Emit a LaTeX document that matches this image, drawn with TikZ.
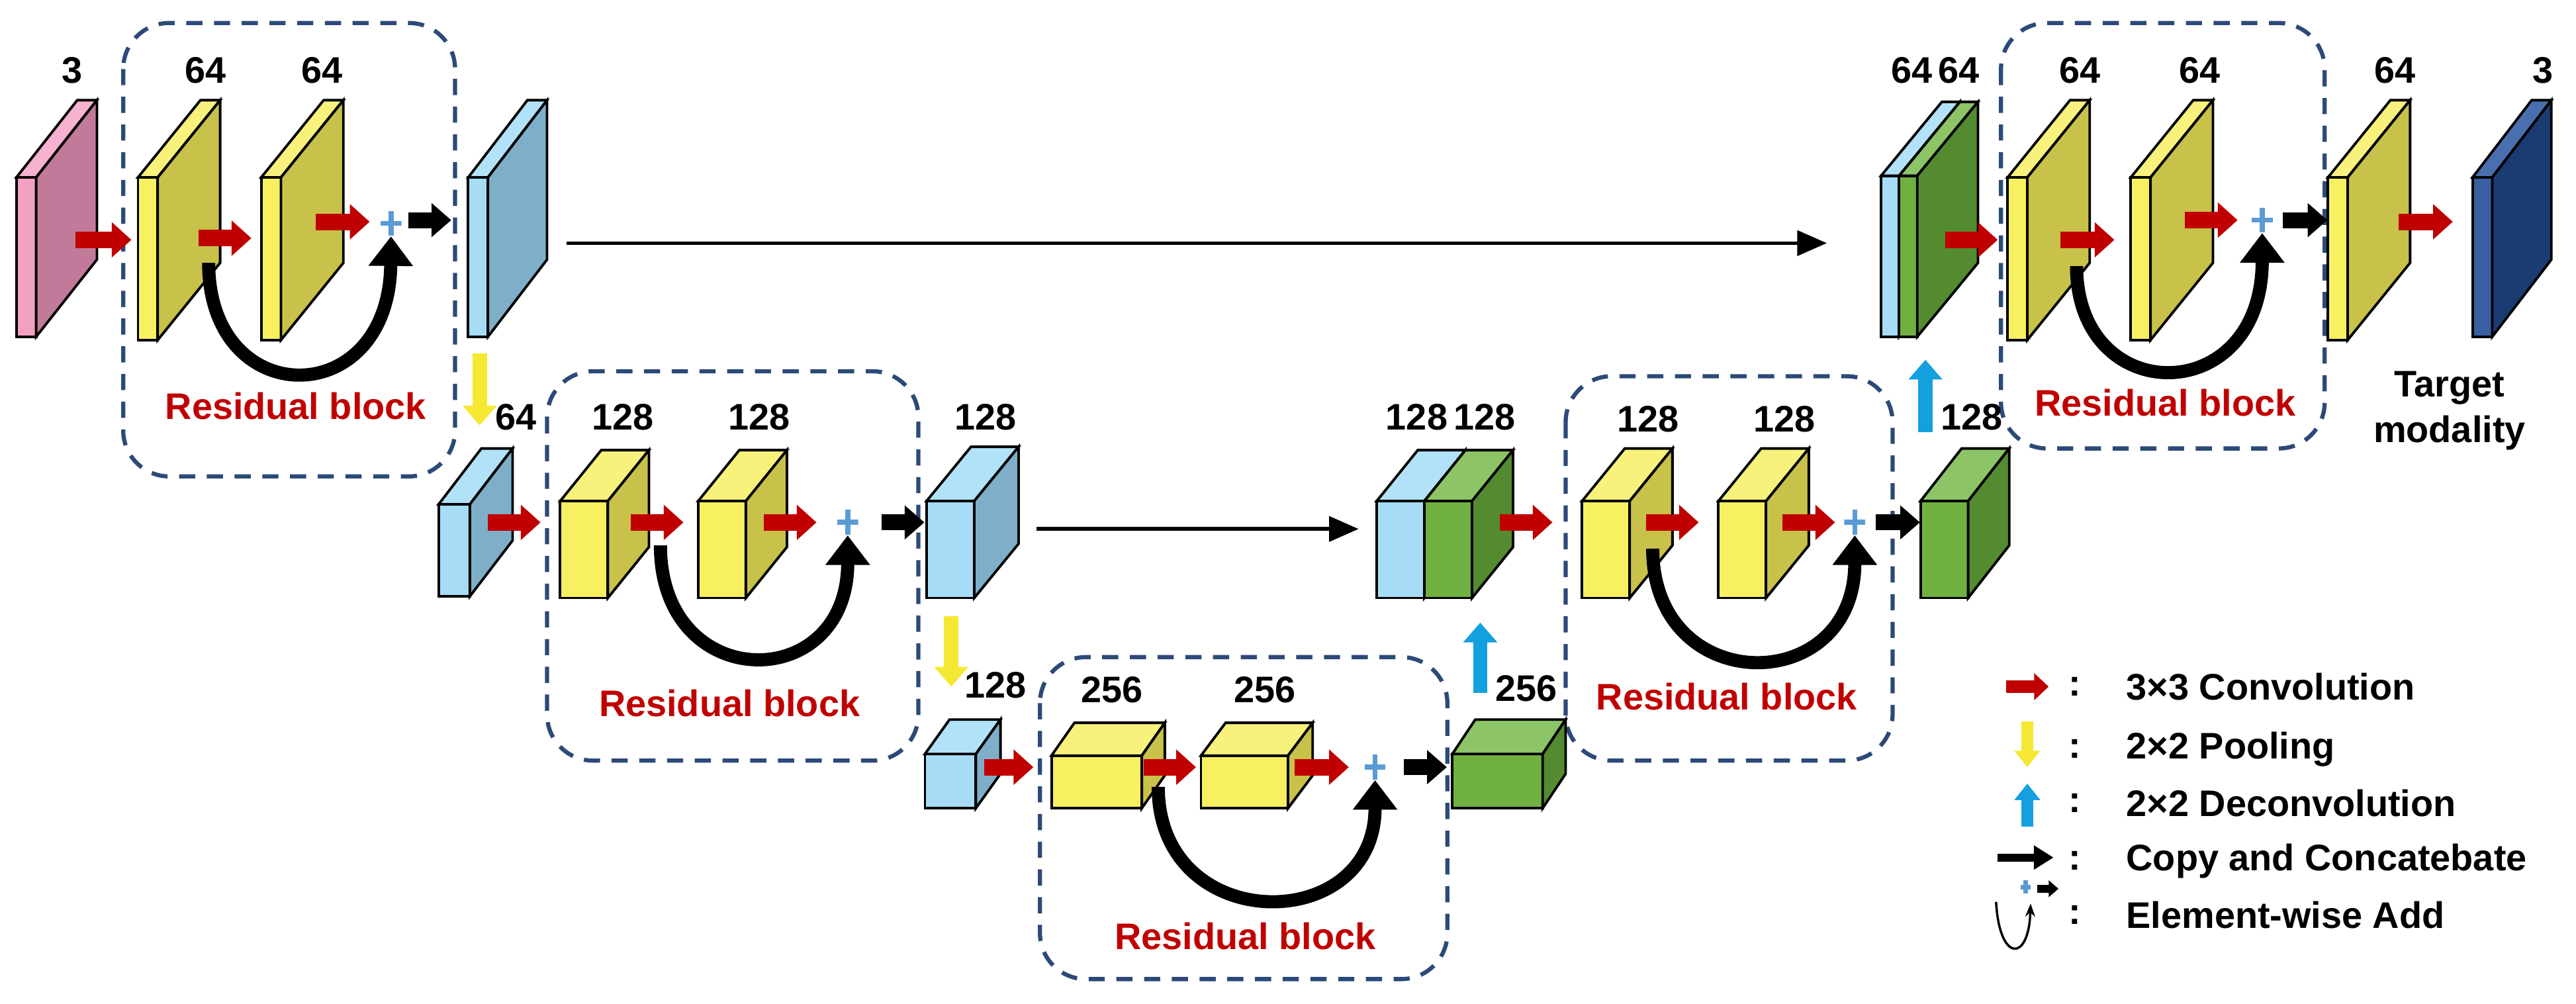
\documentclass[tikz,border=0pt]{standalone}
\usepackage{fontspec}
\setmainfont{Liberation Sans}
\usetikzlibrary{arrows.meta}

\definecolor{pinkF}{RGB}{242,160,196}\definecolor{pinkS}{RGB}{194,122,155}\definecolor{pinkT}{RGB}{246,178,208}
\definecolor{yelF}{RGB}{247,240,96}\definecolor{yelS}{RGB}{200,194,74}\definecolor{yelT}{RGB}{248,242,125}
\definecolor{bluF}{RGB}{166,220,245}\definecolor{bluS}{RGB}{127,175,200}\definecolor{bluT}{RGB}{178,226,248}
\definecolor{grnF}{RGB}{112,176,64}\definecolor{grnS}{RGB}{85,139,48}\definecolor{grnT}{RGB}{140,196,102}
\definecolor{dblF}{RGB}{58,95,160}\definecolor{dblS}{RGB}{26,60,114}\definecolor{dblT}{RGB}{74,111,174}
\definecolor{convred}{RGB}{192,0,0}
\definecolor{poolyel}{RGB}{245,232,50}
\definecolor{deconvblue}{RGB}{20,160,222}
\definecolor{plusblue}{RGB}{91,155,213}
\definecolor{boxblue}{RGB}{44,74,120}

% feature map: x, y (front top left), w, h, dx, dy, colour prefix
\newcommand{\fmap}[7]{%
  \filldraw[map, fill=#7F] (#1,#2) rectangle ++(#3,#4);
  \filldraw[map, fill=#7T] (#1,#2) -- ++(#5,-#6) -- ++(#3,0) -- ++(-#5,#6) -- cycle;
  \filldraw[map, fill=#7S] (#1+#3,#2) -- ++(#5,-#6) -- ++(0,#4) -- ++(-#5,#6) -- cycle;}

\tikzset{
  map/.style={draw=black, line width=1.1pt, line join=miter},
  conv/.style={draw=convred, line width=0.25cm, -{Triangle[length=0.3cm,width=0.52cm]}},
  cat/.style={draw=black, line width=0.24cm, -{Triangle[length=0.3cm,width=0.5cm]}},
  pool/.style={draw=poolyel, line width=0.22cm, -{Triangle[length=0.3cm,width=0.5cm]}},
  deconv/.style={draw=deconvblue, line width=0.22cm, -{Triangle[length=0.3cm,width=0.5cm]}},
  skip/.style={draw=black, line width=0.2cm, -{Triangle[length=0.45cm,width=0.65cm]}},
  link/.style={draw=black, line width=1.6pt, -{Triangle[length=0.45cm,width=0.38cm]}},
  plus/.style={minimum width=0.32cm, minimum height=0.38cm, inner sep=0pt,
    path picture={\draw[plusblue, line width=2.2pt]
      (path picture bounding box.north) -- (path picture bounding box.south)
      (path picture bounding box.west) -- (path picture bounding box.east);}},
  resbox/.style={draw=boxblue, line width=1.8pt, dash pattern=on 7pt off 5pt, rounded corners=0.7cm},
  lbl/.style={font=\fontsize{16}{18}\selectfont\bfseries, inner sep=0pt},
  res/.style={font=\fontsize{16}{18}\selectfont\bfseries, text=convred, inner sep=0pt},
  leg/.style={font=\fontsize{16}{18}\selectfont\bfseries, inner sep=0pt, anchor=west},
}

\begin{document}
\begin{tikzpicture}[x=0.025cm, y=-0.025cm]
\useasboundingbox (0,0) rectangle (1568,611);

% residual blocks
\draw[resbox] (75,14) rectangle (277,290);
\draw[resbox] (333,226) rectangle (559,463);
\draw[resbox] (633,400) rectangle (881,596);
\draw[resbox] (953,229) rectangle (1152,463);
\draw[resbox] (1218,14) rectangle (1415,273);

% top row
\fmap{10}{108}{12}{97}{37}{47}{pink}
\fmap{84}{108}{12}{99}{38}{47}{yel}
\fmap{159}{108}{12}{99}{38}{47}{yel}
\fmap{285}{108}{12}{97}{36}{47}{blu}
\fmap{1145}{107}{11}{98}{37}{45}{blu}
\fmap{1156}{107}{11}{98}{37}{45}{grn}
\fmap{1222}{108}{12}{99}{38}{47}{yel}
\fmap{1297}{108}{12}{99}{38}{47}{yel}
\fmap{1417}{108}{12}{99}{38}{47}{yel}
\fmap{1505}{108}{12}{97}{36}{47}{dbl}

% middle row
\fmap{267}{307}{19}{56}{26}{34}{blu}
\fmap{341}{305}{29}{59}{25}{31}{yel}
\fmap{425}{305}{29}{59}{25}{31}{yel}
\fmap{564}{305}{29}{59}{27}{33}{blu}
\fmap{838}{305}{29}{59}{25}{31}{blu}
\fmap{867}{305}{29}{59}{25}{31}{grn}
\fmap{963}{305}{29}{59}{26}{32}{yel}
\fmap{1046}{305}{29}{59}{26}{32}{yel}
\fmap{1169}{305}{29}{59}{25}{32}{grn}

% bottom row
\fmap{563}{459}{31}{33}{15}{21}{blu}
\fmap{640}{460}{55}{32}{14}{20}{yel}
\fmap{731}{460}{53}{32}{15}{20}{yel}
\fmap{884}{459}{55}{33}{14}{21}{grn}

% adders
\node[plus] (p1) at (238,136) {};
\node[plus] (p2) at (516,318) {};
\node[plus] (p3) at (837,467) {};
\node[plus] (p4) at (1129,318) {};
\node[plus] (p5) at (1377,134) {};

% convolutions
\foreach \xa/\xb/\yy in {46/80/146, 121/153/145, 192/225/135, 1184/1216/146, 1254/1287/146,
    1330/1362/134, 1460/1493/135, 297/329/318, 384/416/318, 465/497/318, 913/945/318,
    1002/1034/318, 1085/1117/318, 599/629/467, 696/728/467, 788/821/467}
  \draw[conv] (\xa,\yy) -- (\xb,\yy);

% after adders
\draw[cat] (p1.east) ++(4,-2) -- ++(26,0);
\draw[cat] (p2.east) ++(14,0) -- ++(26,0);
\draw[cat] (p3.east) ++(11,0) -- ++(26,0);
\draw[cat] (p4.east) ++(6,0) -- ++(27,0);
\draw[cat] (p5.east) ++(6,0) -- ++(27,0);

% skip connections
\draw[skip] (127,160) .. controls (127,251) and (237,251) .. (p1.south);
\draw[skip] (402,332) .. controls (402,423) and (516,423) .. (p2.south);
\draw[skip] (705,479) .. controls (705,570) and (837,570) .. (p3.south);
\draw[skip] (1006,334) .. controls (1006,425) and (1129,425) .. (p4.south);
\draw[skip] (1264,162) .. controls (1264,249) and (1377,249) .. (p5.south);

% pooling and deconvolution
\draw[pool] (292,215) -- (292,259);
\draw[pool] (579,375) -- (579,418);
\draw[deconv] (901,422) -- (901,379);
\draw[deconv] (1172,263) -- (1172,219);

% copy and concatenate
\coordinate (c1a) at (345,148);
\coordinate (c1b) at (1112,148);
\coordinate (c2a) at (631,322);
\coordinate (c2b) at (827,322);
\draw[link] (c1a) -- (c1b);
\draw[link] (c2a) -- (c2b);

% channel labels
\node[lbl] (n1) at (44,43) {3};
\node[lbl] (n2) at (125,43) {64};
\node[lbl] (n3) at (196,43) {64};
\node[lbl] (n4) at (1178,43) {64\,64};
\node[lbl] (n5) at (1266,43) {64};
\node[lbl] (n6) at (1339,43) {64};
\node[lbl] (n7) at (1458,43) {64};
\node[lbl] (n8) at (1548,43) {3};
\node[lbl] (n9) at (314,254) {64};
\node[lbl] (n10) at (379,254) {128};
\node[lbl] (n11) at (462,254) {128};
\node[lbl] (n12) at (600,254) {128};
\node[lbl] (n13) at (883,254) {128\,128};
\node[lbl] (n14) at (1003,255) {128};
\node[lbl] (n15) at (1086,255) {128};
\node[lbl] (n16) at (1200,254) {128};
\node[lbl] (n17) at (606,417) {128};
\node[lbl] (n18) at (677,420) {256};
\node[lbl] (n19) at (770,420) {256};
\node[lbl] (n20) at (929,419) {256};

\node[res] (r1) at (180,247) {Residual block};
\node[res] (r2) at (444,428) {Residual block};
\node[res] (r3) at (758,570) {Residual block};
\node[res] (r4) at (1051,424) {Residual block};
\node[res] (r5) at (1318,245) {Residual block};
\node[lbl, align=center, font=\fontsize{16}{20}\selectfont\bfseries] (tm) at (1491,250) {Target\\modality};

% legend
\draw[conv, line width=0.2cm, -{Triangle[length=0.22cm,width=0.4cm]}] (1221,418) -- (1247,418);
\draw[pool, line width=0.18cm, -{Triangle[length=0.25cm,width=0.38cm]}] (1234,439) -- (1234,467);
\draw[deconv, line width=0.18cm, -{Triangle[length=0.25cm,width=0.38cm]}] (1234,503) -- (1234,477);
\draw[cat, line width=0.12cm, -{Triangle[length=0.3cm,width=0.35cm]}] (1216,522) -- (1250,522);
\node[plus, minimum width=0.15cm, minimum height=0.2cm] (lp) at (1233,540) {};
\draw[cat, line width=0.12cm, -{Triangle[length=0.15cm,width=0.25cm]}] (1240,541) -- (1253,541);
\draw[line width=1pt, -{Stealth[length=0.2cm]}] (1215,549) .. controls (1217,586) and (1235,586) .. (1236,550);
\foreach \yy/\txt in {418/3\texttimes3 Convolution, 456/2\texttimes2 Pooling, 489/2\texttimes2 Deconvolution,
    524/Copy and Concatebate, 557/Element-wise Add}{
  \node[leg] at (1259,\yy) {:};
  \node[leg] at (1294,\yy) {\txt};
}
\end{tikzpicture}
\end{document}
